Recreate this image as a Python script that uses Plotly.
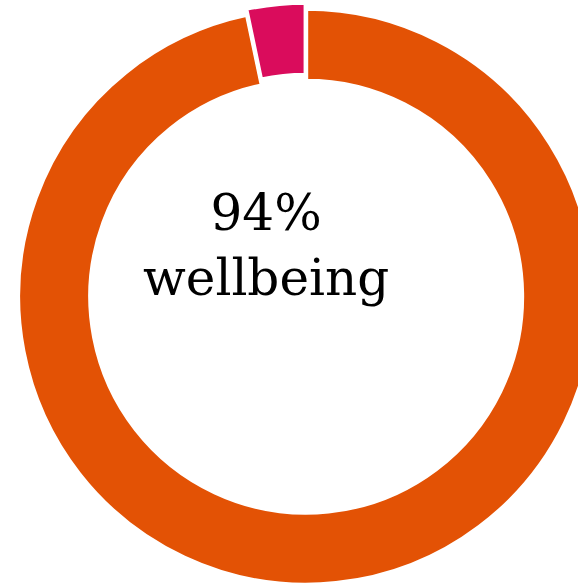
import plotly.graph_objects as go

# Share of responses per group (percent)
labels = ["Wellbeing", "Other"]
values = [96.7, 3.3]
colors = ["#E35205", "#DA0C5C"]
pulls = [0.0, 0.021]

center_text = ["94%", "wellbeing"]

W, H = 620, 600

fig = go.Figure(
    go.Pie(
        labels=labels,
        values=values,
        hole=0.75,
        sort=False,
        direction="clockwise",
        rotation=0,
        pull=pulls,
        marker=dict(colors=colors, line=dict(color="white", width=4)),
        textinfo="none",
        hoverinfo="label+percent",
        domain=dict(x=[12.2 / W, 600.2 / W], y=[1 - 590.7 / H, 1 - 2.7 / H]),
        showlegend=False,
    )
)

fig.add_annotation(
    text="<br>".join(center_text),
    x=265.5 / W,
    y=1 - 245 / H,
    xref="paper",
    yref="paper",
    xanchor="center",
    yanchor="middle",
    showarrow=False,
    font=dict(family="DejaVu Serif", size=50, color="black"),
)

fig.update_layout(
    width=W,
    height=H,
    margin=dict(l=0, r=0, t=0, b=0),
    paper_bgcolor="white",
    plot_bgcolor="white",
)

fig.write_html(
    "out.html",
    post_script="document.documentElement.style.overflow='hidden';document.body.style.overflow='hidden';",
)
